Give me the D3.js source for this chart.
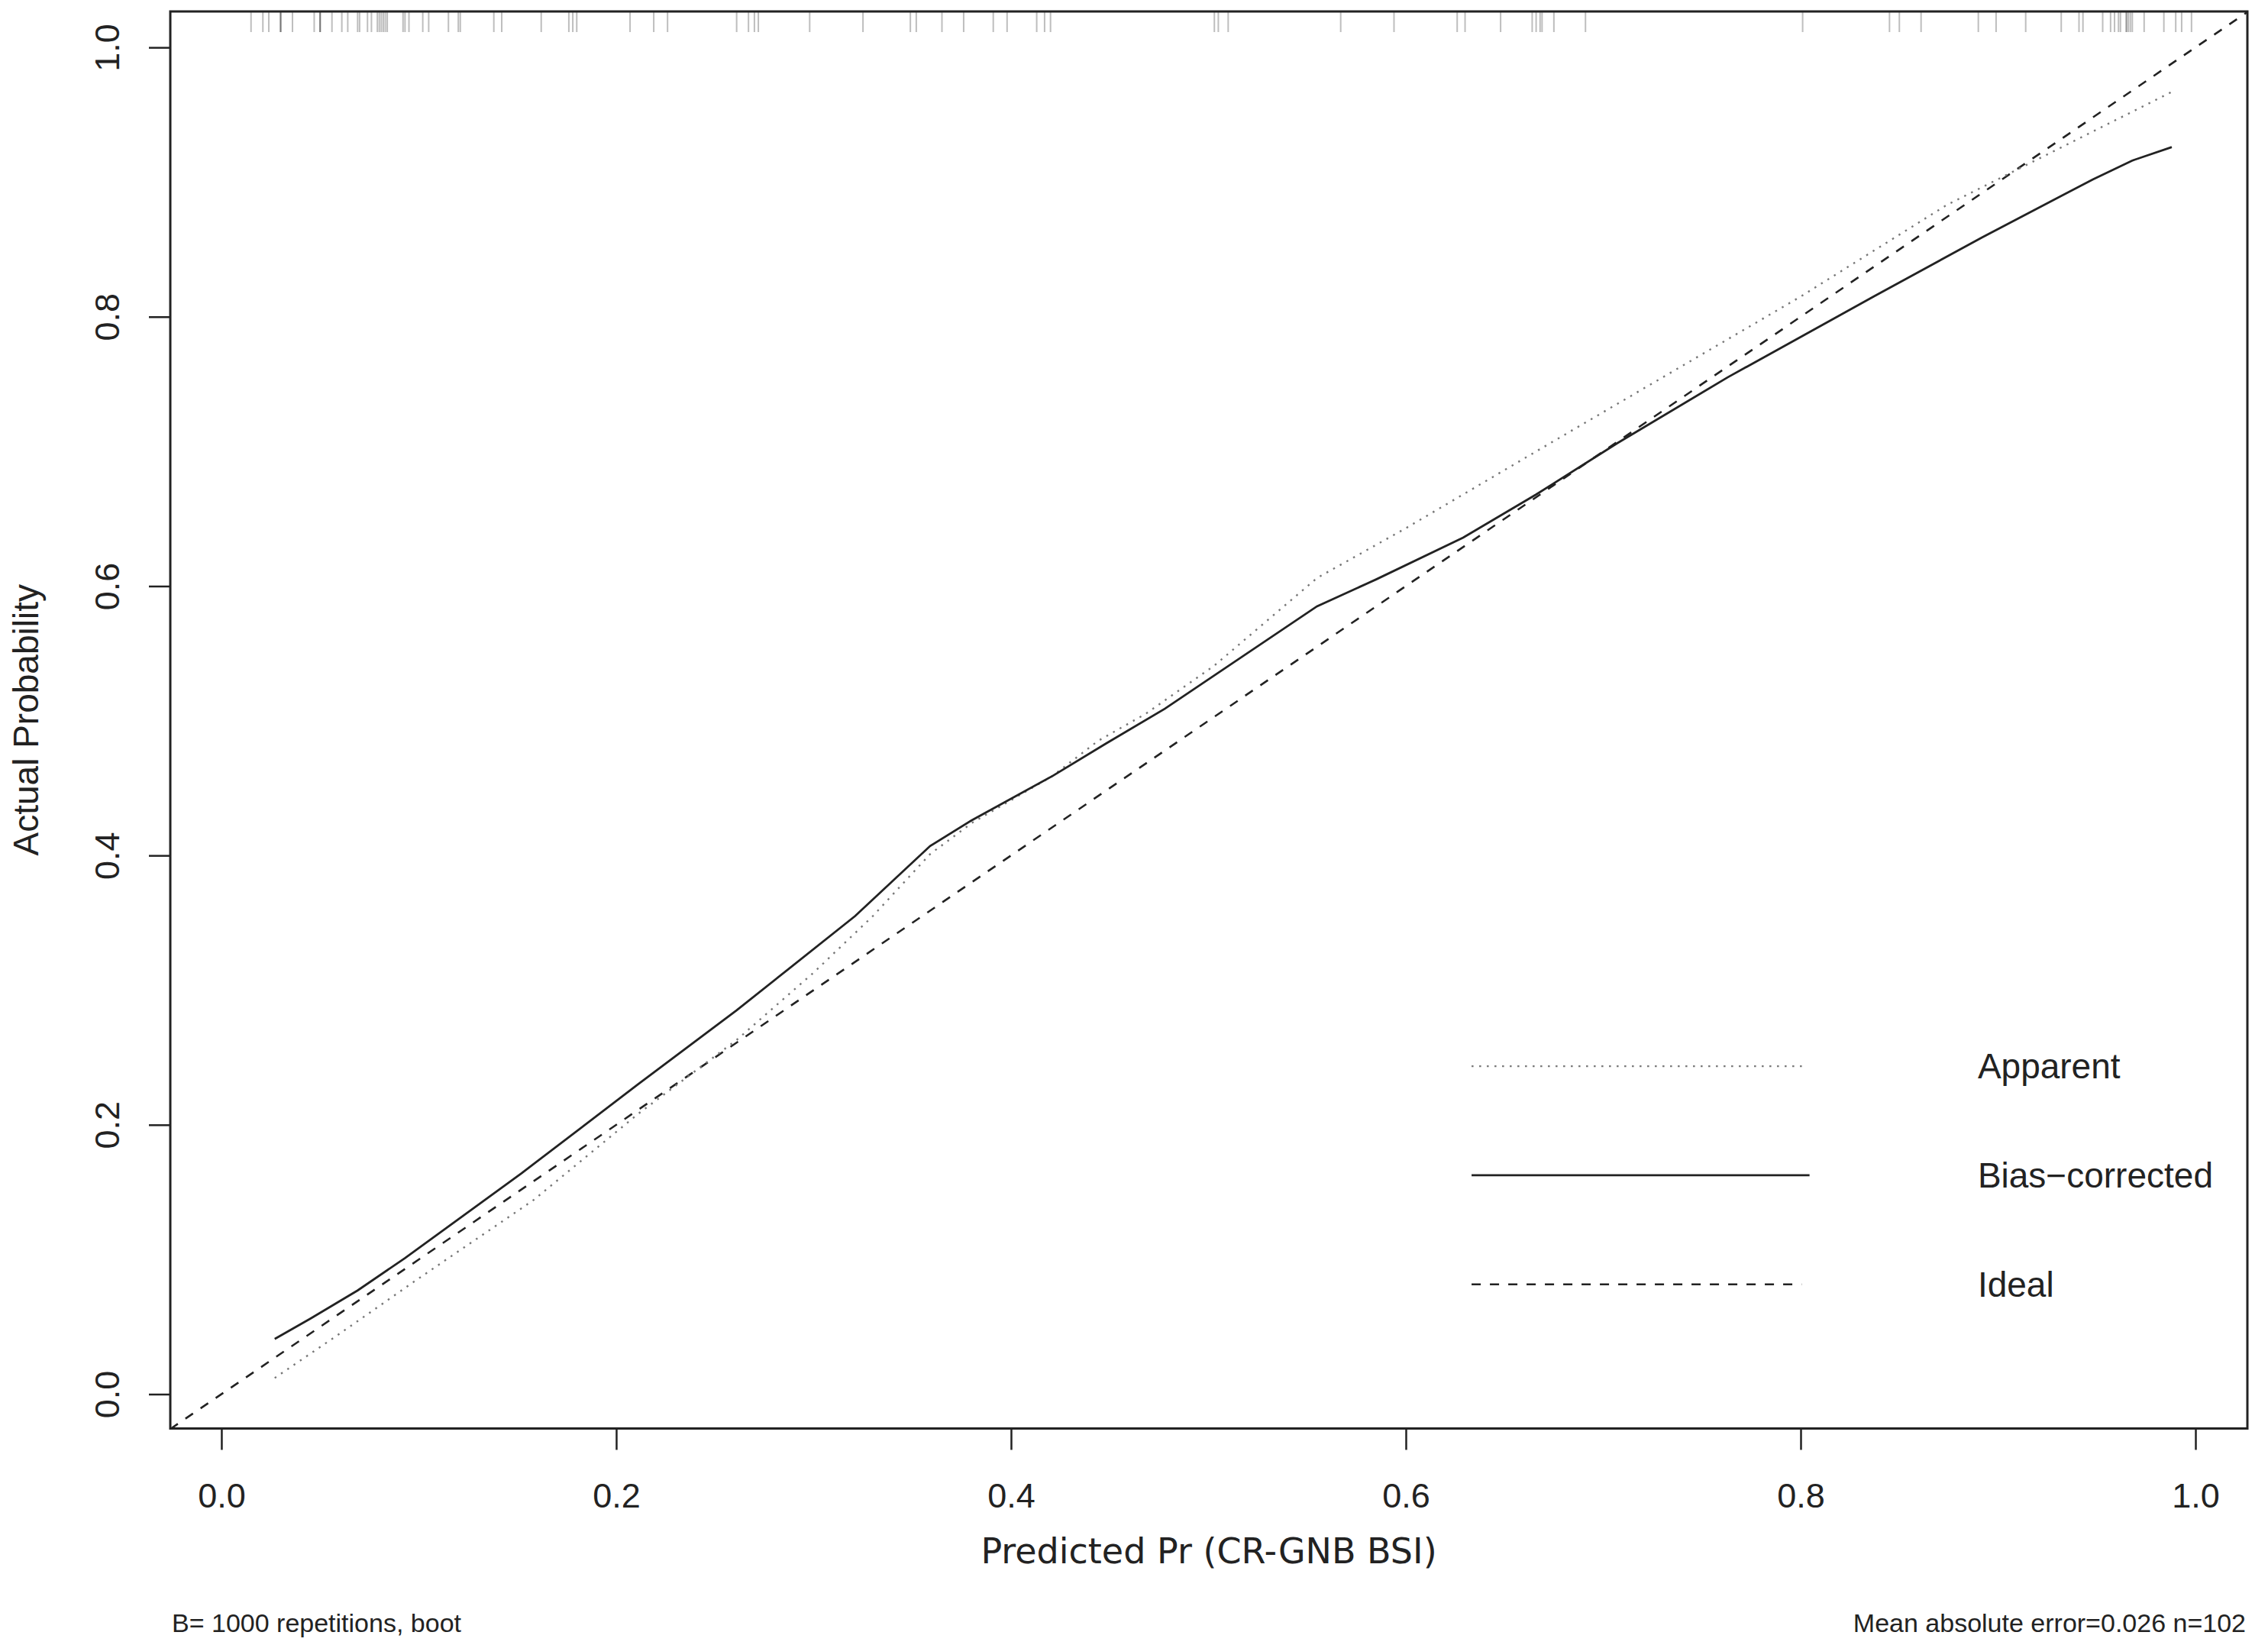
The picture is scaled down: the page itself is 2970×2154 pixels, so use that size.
<!DOCTYPE html>
<html>
<head>
<meta charset="utf-8">
<title>Calibration curve</title>
<script src="https://cdn.jsdelivr.net/npm/d3@7"></script>
<style>
  html, body { margin: 0; padding: 0; background: #fff; }
  svg { display: block; }
</style>
</head>
<body>
<div id="chart"></div>
<script>
'use strict';

// predicted probabilities shown in the rug along the top
const rugValues = [
  0.015, 0.021, 0.024, 0.030, 0.030, 0.030, 0.036, 0.047, 0.050, 0.050, 0.050, 0.056,
  0.061, 0.064, 0.069, 0.070, 0.074, 0.076, 0.079, 0.080, 0.081, 0.082, 0.083, 0.084,
  0.092, 0.093, 0.095, 0.102, 0.105, 0.115, 0.120, 0.121, 0.138, 0.142, 0.162, 0.176,
  0.178, 0.180, 0.207, 0.219, 0.226, 0.261, 0.267, 0.270, 0.272, 0.298,
  0.325, 0.349, 0.352, 0.365, 0.376, 0.391, 0.398, 0.413, 0.417, 0.420,
  0.503, 0.505, 0.510, 0.567, 0.594,
  0.626, 0.630, 0.648, 0.664, 0.666, 0.668, 0.669, 0.675, 0.691,
  0.801, 0.845, 0.850, 0.861, 0.890, 0.899, 0.914, 0.932, 0.941, 0.943, 0.953,
  0.957, 0.959, 0.961, 0.962, 0.965, 0.965, 0.966, 0.967, 0.968, 0.974, 0.984,
  0.990, 0.993, 0.998
];

// apparent calibration (predicted, actual)
const apparentPred = [0.027, 0.060, 0.100, 0.158, 0.211, 0.261, 0.300, 0.330, 0.359, 0.380,
  0.421, 0.444, 0.468, 0.503, 0.555, 0.600, 0.666, 0.800, 0.874, 0.988];
const apparentActual = [0.012, 0.045, 0.086, 0.144, 0.208, 0.263, 0.313, 0.355, 0.401, 0.424,
  0.459, 0.485, 0.505, 0.541, 0.606, 0.643, 0.700, 0.815, 0.883, 0.967];

// bias-corrected calibration (predicted, actual)
const biasPred = [0.027, 0.045, 0.069, 0.093, 0.152, 0.211, 0.261, 0.321, 0.359, 0.380,
  0.421, 0.448, 0.478, 0.555, 0.585, 0.629, 0.666, 0.707, 0.763, 0.837, 0.892, 0.948,
  0.968, 0.988];
const biasActual = [0.041, 0.056, 0.077, 0.101, 0.164, 0.230, 0.285, 0.355, 0.407, 0.426,
  0.459, 0.483, 0.509, 0.585, 0.605, 0.636, 0.668, 0.706, 0.755, 0.815, 0.859, 0.902,
  0.916, 0.926];

const tickValues = [0.0, 0.2, 0.4, 0.6, 0.8, 1.0];
const tickLabels = ['0.0', '0.2', '0.4', '0.6', '0.8', '1.0'];

const legendLabels = ['Apparent', 'Bias\u2212corrected', 'Ideal'];

const xTitle = 'Predicted Pr (CR-GNB BSI)';
const yTitle = 'Actual Probability';
const leftNote = 'B= 1000 repetitions, boot';
const rightNote = 'Mean absolute error=0.026 n=102';

function zip(xs, ys) {
  return xs.map(function(x, i) { return { x: x, y: ys[i] }; });
}

function makeCalibrationPlot() {
  var width = 2970;
  var height = 2154;
  var margin = { top: 15, right: 27, bottom: 283.5, left: 223 };
  var sans = "'Liberation Sans', Arial, Helvetica, sans-serif";

  var svg = d3.select('#chart')
              .append('svg')
              .attr('width', width)
              .attr('height', height);

  // axis limits extend a little past 0 and 1, like R does
  var x = d3.scaleLinear()
            .domain([-0.0259, 1.0263])
            .range([margin.left, width - margin.right]);
  var y = d3.scaleLinear()
            .domain([-0.0255, 1.0267])
            .range([height - margin.bottom, margin.top]);

  svg.append('clipPath')
     .attr('id', 'plot-clip')
     .append('rect')
     .attr('x', margin.left)
     .attr('y', margin.top)
     .attr('width', width - margin.left - margin.right)
     .attr('height', height - margin.top - margin.bottom);

  var plot = svg.append('g').attr('clip-path', 'url(#plot-clip)');

  // rug of predicted values
  plot.selectAll('.rug')
      .data(rugValues)
      .enter()
      .append('line')
      .attr('class', 'rug')
      .attr('x1', function(d) { return x(d); })
      .attr('x2', function(d) { return x(d); })
      .attr('y1', margin.top)
      .attr('y2', margin.top + 27)
      .attr('stroke', '#444')
      .attr('stroke-opacity', 0.35)
      .attr('stroke-width', 2);

  var line = d3.line()
               .x(function(d) { return x(d.x); })
               .y(function(d) { return y(d.y); });

  // ideal line
  plot.append('path')
      .attr('d', line(zip(x.domain(), x.domain())))
      .attr('fill', 'none')
      .attr('stroke', '#222')
      .attr('stroke-width', 2.6)
      .attr('stroke-dasharray', '12,12');

  plot.append('path')
      .attr('d', line(zip(apparentPred, apparentActual)))
      .attr('fill', 'none')
      .attr('stroke', '#777')
      .attr('stroke-width', 2.4)
      .attr('stroke-dasharray', '2.5,7.5');

  plot.append('path')
      .attr('d', line(zip(biasPred, biasActual)))
      .attr('fill', 'none')
      .attr('stroke', '#222')
      .attr('stroke-width', 2.8);

  // frame
  svg.append('rect')
     .attr('x', margin.left)
     .attr('y', margin.top)
     .attr('width', width - margin.left - margin.right)
     .attr('height', height - margin.top - margin.bottom)
     .attr('fill', 'none')
     .attr('stroke', '#222')
     .attr('stroke-width', 3);

  var xAxis = d3.axisBottom(x)
                .tickValues(tickValues)
                .tickFormat(function(d, i) { return tickLabels[i]; })
                .tickSize(28)
                .tickPadding(44);
  var gx = svg.append('g')
              .attr('transform', 'translate(0,' + (height - margin.bottom) + ')')
              .call(xAxis);
  gx.select('.domain').remove();
  gx.selectAll('line').attr('stroke', '#222').attr('stroke-width', 2.5);
  gx.selectAll('text')
    .attr('fill', '#222')
    .style('font-family', sans)
    .style('font-size', '45px');

  var yAxis = d3.axisLeft(y)
                .tickValues(tickValues)
                .tickFormat(function(d, i) { return tickLabels[i]; })
                .tickSize(28);
  var gy = svg.append('g')
              .attr('transform', 'translate(' + margin.left + ',0)')
              .call(yAxis);
  gy.select('.domain').remove();
  gy.selectAll('line').attr('stroke', '#222').attr('stroke-width', 2.5);
  // rotated tick labels, baseline 67px left of the frame
  gy.selectAll('text')
    .attr('x', null)
    .attr('dy', null)
    .attr('transform', 'translate(-67,0) rotate(-90)')
    .attr('text-anchor', 'middle')
    .attr('fill', '#222')
    .style('font-family', sans)
    .style('font-size', '45px');

  // legend, placed in data units
  var legendY = [0.2435, 0.1625, 0.0815];
  var legendStyles = [
    { stroke: '#777', width: 2.4, dash: '2.5,7.5', x2: 0.8015 },
    { stroke: '#222', width: 2.8, dash: null, x2: 0.8045 },
    { stroke: '#222', width: 2.6, dash: '12,12', x2: 0.8005 }
  ];
  var legend = svg.append('g').attr('class', 'legend');
  legend.selectAll('line')
        .data(legendLabels)
        .enter()
        .append('line')
        .attr('x1', x(0.6333))
        .attr('x2', function(d, i) { return x(legendStyles[i].x2); })
        .attr('y1', function(d, i) { return y(legendY[i]); })
        .attr('y2', function(d, i) { return y(legendY[i]); })
        .attr('stroke', function(d, i) { return legendStyles[i].stroke; })
        .attr('stroke-width', function(d, i) { return legendStyles[i].width; })
        .attr('stroke-dasharray', function(d, i) { return legendStyles[i].dash; });
  legend.selectAll('text')
        .data(legendLabels)
        .enter()
        .append('text')
        .attr('x', x(0.8897))
        .attr('y', function(d, i) { return y(legendY[i]) + 16; })
        .attr('fill', '#222')
        .style('font-family', sans)
        .style('font-size', '46px')
        .text(function(d) { return d; });

  // titles
  svg.append('text')
     .attr('x', (margin.left + width - margin.right) / 2)
     .attr('y', 2047)
     .attr('text-anchor', 'middle')
     .attr('fill', '#222')
     .style('font-family', "'DejaVu Sans', Verdana, sans-serif")
     .style('font-size', '46px')
     .text(xTitle);

  svg.append('text')
     .attr('transform', 'translate(50,' + ((margin.top + height - margin.bottom) / 2) + ') rotate(-90)')
     .attr('text-anchor', 'middle')
     .attr('fill', '#222')
     .style('font-family', sans)
     .style('font-size', '46px')
     .text(yTitle);

  svg.append('text')
     .attr('x', margin.left + 2)
     .attr('y', 2137)
     .attr('fill', '#222')
     .style('font-family', sans)
     .style('font-size', '34px')
     .text(leftNote);

  svg.append('text')
     .attr('x', width - margin.right - 2)
     .attr('y', 2137)
     .attr('text-anchor', 'end')
     .attr('fill', '#222')
     .style('font-family', sans)
     .style('font-size', '34px')
     .text(rightNote);
}

makeCalibrationPlot();
</script>
</body>
</html>
